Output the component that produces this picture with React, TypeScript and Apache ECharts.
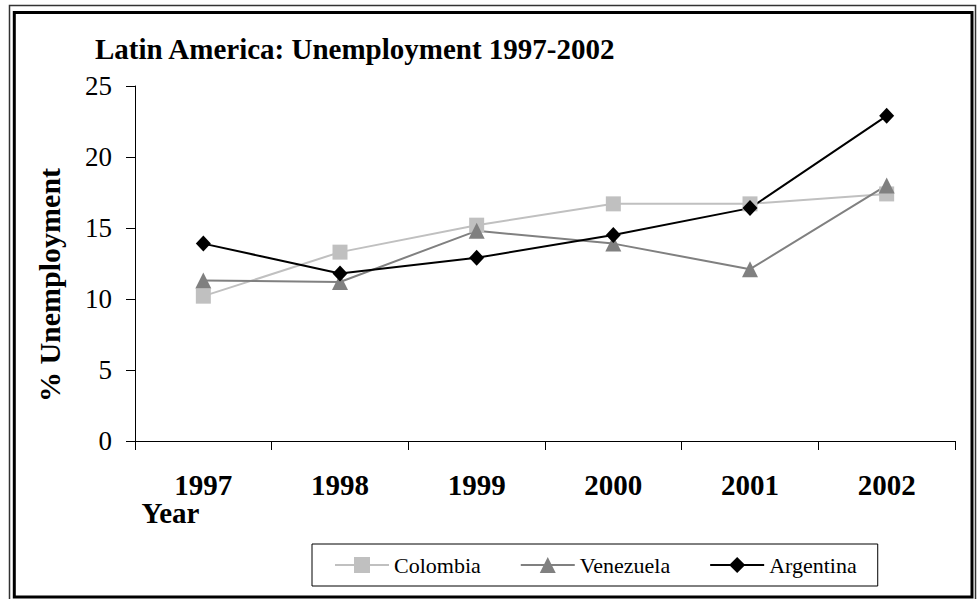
import React, { useEffect, useRef } from "react";
import * as echarts from "echarts";

const years = ["1997", "1998", "1999", "2000", "2001", "2002"];
const colombia = [10.2, 13.3, 15.2, 16.7, 16.7, 17.4];
const venezuela = [11.3, 11.2, 14.8, 13.9, 12.1, 18.0];
const argentina = [13.9, 11.8, 12.9, 14.5, 16.4, 22.9];
const yTicks = { min: 0, max: 25, interval: 5 };

const FONT = "'Liberation Serif', 'Times New Roman', serif";

export default function App() {
  const ref = useRef<HTMLDivElement>(null);
  useEffect(() => {
    if (!ref.current) return;
    const chart = echarts.init(ref.current, null, { renderer: "svg" });
    const mkSeries = (name: string, data: number[], color: string, symbol: string, size: any) => ({
      name,
      type: "line",
      data,
      symbol,
      symbolSize: size,
      showSymbol: true,
      lineStyle: { color, width: 2 },
      itemStyle: { color, borderWidth: 0 },
      emphasis: { disabled: true },
    });
    chart.setOption({
      animation: false,
      backgroundColor: "#ffffff",
      textStyle: { fontFamily: FONT },
      grid: { left: 135, right: 22, top: 86, bottom: 158, containLabel: false },
      xAxis: {
        type: "category",
        data: years,
        boundaryGap: true,
        axisLine: { show: true, lineStyle: { color: "#000", width: 1 } },
        axisTick: { show: true, length: 9, lineStyle: { color: "#000" } },
        axisLabel: {
          color: "#000",
          fontFamily: FONT,
          fontSize: 29,
          fontWeight: "bold",
          margin: 29,
        },
        splitLine: { show: false },
      },
      yAxis: {
        type: "value",
        min: yTicks.min,
        max: yTicks.max,
        interval: yTicks.interval,
        axisLine: { show: true, lineStyle: { color: "#000", width: 1 } },
        axisTick: { show: true, length: 9, lineStyle: { color: "#000" } },
        axisLabel: { color: "#000", fontFamily: FONT, fontSize: 27, margin: 23 },
        splitLine: { show: false },
      },
      legend: {
        left: 312,
        top: 544,
        orient: "horizontal",
        padding: [10, 21, 10, 22],
        borderColor: "#000",
        borderWidth: 1,
        itemWidth: 54,
        itemHeight: 20,
        itemGap: 39,
        textStyle: { color: "#000", fontFamily: FONT, fontSize: 22, lineHeight: 22 },
        data: ["Colombia", "Venezuela", "Argentina"],
        selectedMode: false,
      },
      graphic: [
        {
          type: "rect",
          shape: { x: 9.5, y: 5.5, width: 966, height: 600 },
          style: { fill: "none", stroke: "#333", lineWidth: 1.5 },
          silent: true,
        },
        {
          type: "rect",
          shape: { x: 14.3, y: 12.5, width: 957.7, height: 584.5 },
          style: { fill: "none", stroke: "#000", lineWidth: 3 },
          silent: true,
        },
        {
          type: "text",
          x: 95,
          y: 48.5,
          style: {
            text: "Latin America: Unemployment 1997-2002",
            font: `bold 29px ${FONT}`,
            fill: "#000",
            align: "left",
            verticalAlign: "middle",
          },
        },
        {
          type: "text",
          x: 49,
          y: 285,
          rotation: Math.PI / 2,
          style: {
            text: "% Unemployment",
            font: `bold 30px ${FONT}`,
            fill: "#000",
            align: "center",
            verticalAlign: "middle",
          },
        },
        {
          type: "text",
          x: 141.5,
          y: 513,
          style: {
            text: "Year",
            font: `bold 29px ${FONT}`,
            fill: "#000",
            align: "left",
            verticalAlign: "middle",
          },
        },
      ],
      series: [
        mkSeries("Colombia", colombia, "#C0C0C0", "rect", 15),
        mkSeries("Venezuela", venezuela, "#808080", "triangle", 16),
        mkSeries("Argentina", argentina, "#000000", "diamond", [15, 16]),
      ],
    });
    return () => chart.dispose();
  }, []);
  return (
    <div
      ref={ref}
      style={{ position: "absolute", left: 0, top: 0, width: 977, height: 599, background: "#fff" }}
    />
  );
}
